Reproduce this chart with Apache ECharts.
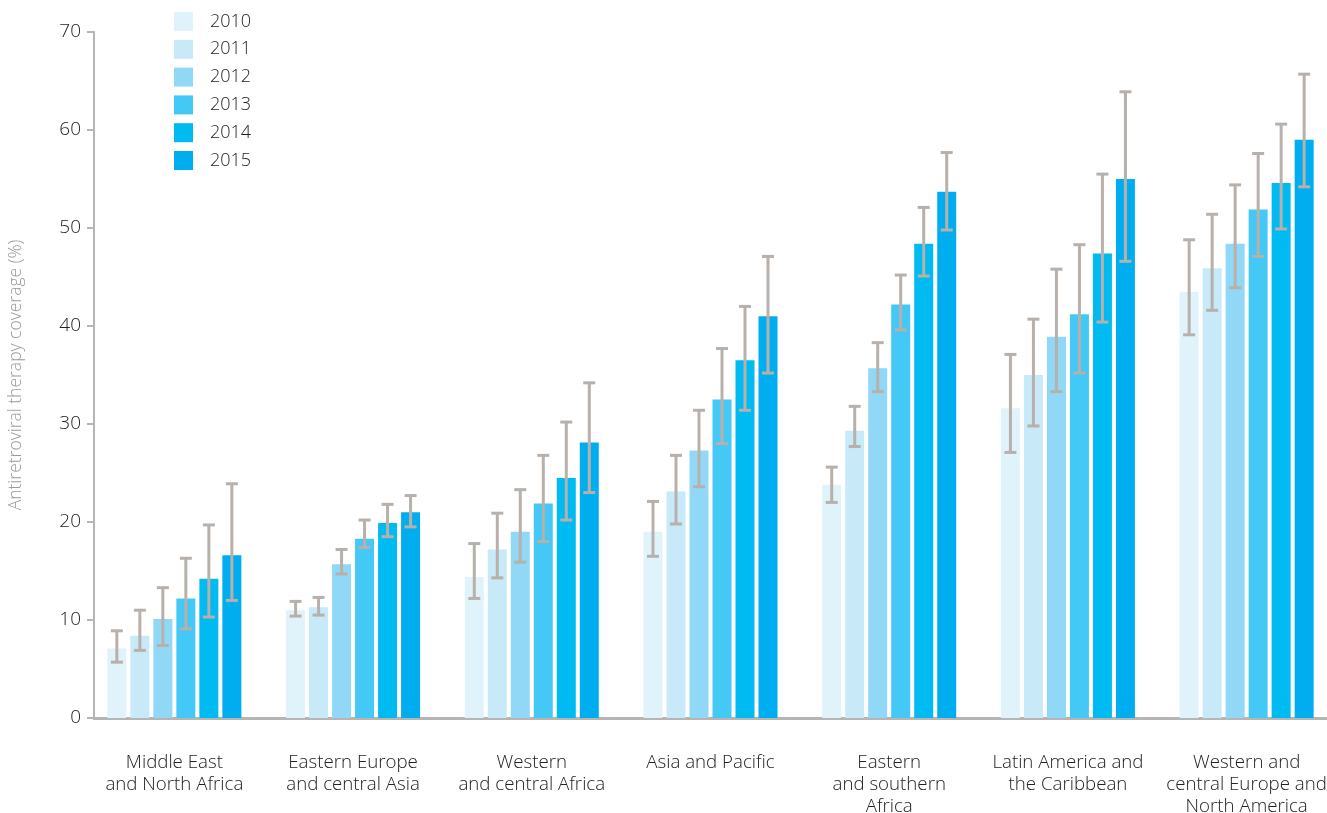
<!DOCTYPE html>
<html>
<head>
<meta charset="utf-8">
<script src="https://cdn.jsdelivr.net/npm/echarts@6/dist/echarts.min.js"></script>
<style>html,body{margin:0;padding:0;background:#fff}#c{width:1327px;height:813px}</style>
</head>
<body>
<div id="c"></div>
<script>
const categories = [
  "Middle East\nand North Africa",
  "Eastern Europe\nand central Asia",
  "Western\nand central Africa",
  "Asia and Pacific",
  "Eastern\nand southern\nAfrica",
  "Latin America and\nthe Caribbean",
  "Western and\ncentral Europe and\nNorth America"
];
const years = ["2010", "2011", "2012", "2013", "2014", "2015"];
const colors = ["#e0f3fb", "#c8e9f8", "#90d8f6", "#44c8f5", "#00baf2", "#00aeef"];

// coverage values per year (one value per category)
const v2010 = [7.1, 11.0, 14.4, 19.0, 23.8, 31.6, 43.5];
const v2011 = [8.4, 11.3, 17.2, 23.1, 29.3, 35.0, 45.9];
const v2012 = [10.1, 15.7, 19.0, 27.3, 35.7, 38.9, 48.4];
const v2013 = [12.2, 18.3, 21.9, 32.5, 42.2, 41.2, 51.9];
const v2014 = [14.2, 19.9, 24.5, 36.5, 48.4, 47.4, 54.6];
const v2015 = [16.6, 21.0, 28.1, 41.0, 53.7, 55.0, 59.0];

// uncertainty bounds per year
const lo2010 = [5.7, 10.4, 12.2, 16.5, 22.0, 27.1, 39.1];
const hi2010 = [8.9, 11.9, 17.8, 22.1, 25.6, 37.1, 48.8];
const lo2011 = [6.9, 10.5, 14.3, 19.8, 27.7, 29.8, 41.6];
const hi2011 = [11.0, 12.3, 20.9, 26.8, 31.8, 40.7, 51.4];
const lo2012 = [7.4, 14.7, 15.9, 23.6, 33.3, 33.3, 43.9];
const hi2012 = [13.3, 17.2, 23.3, 31.4, 38.3, 45.8, 54.4];
const lo2013 = [9.1, 17.4, 18.0, 28.0, 39.6, 35.2, 47.1];
const hi2013 = [16.3, 20.2, 26.8, 37.7, 45.2, 48.3, 57.6];
const lo2014 = [10.3, 18.5, 20.2, 31.4, 45.1, 40.4, 49.9];
const hi2014 = [19.7, 21.8, 30.2, 42.0, 52.1, 55.5, 60.6];
const lo2015 = [12.0, 19.5, 23.0, 35.2, 49.8, 46.6, 54.2];
const hi2015 = [23.9, 22.7, 34.2, 47.1, 57.7, 63.9, 65.7];

const values = [v2010, v2011, v2012, v2013, v2014, v2015];
const lows = [lo2010, lo2011, lo2012, lo2013, lo2014, lo2015];
const highs = [hi2010, hi2011, hi2012, hi2013, hi2014, hi2015];

const BAR_W = 19, BAR_GAP = 4, CAP_W = 12;
const errColor = "#b8b0aa";
const FONT = "'Open Sans', Lato, sans-serif";
const TXT = "#222";

const series = [];
years.forEach((y, i) => {
  series.push({
    name: y, type: "bar", data: values[i],
    barWidth: BAR_W, barGap: (BAR_GAP / BAR_W * 100) + "%",
    itemStyle: { color: colors[i] }, z: 2
  });
});
years.forEach((y, i) => {
  const offset = (i - (years.length - 1) / 2) * (BAR_W + BAR_GAP);
  series.push({
    type: "custom", name: y + " err", z: 5, silent: true,
    data: categories.map((c, k) => [k, lows[i][k], highs[i][k]]),
    encode: { x: 0, y: [1, 2] },
    renderItem: function (params, api) {
      const p1 = api.coord([api.value(0), api.value(1)]);
      const p2 = api.coord([api.value(0), api.value(2)]);
      const x = p1[0] + offset;
      const st = { stroke: errColor, lineWidth: 3 };
      return {
        type: "group", children: [
          { type: "line", shape: { x1: x, y1: p1[1], x2: x, y2: p2[1] }, style: st },
          { type: "line", shape: { x1: x - CAP_W / 2, y1: p1[1], x2: x + CAP_W / 2, y2: p1[1] }, style: st },
          { type: "line", shape: { x1: x - CAP_W / 2, y1: p2[1], x2: x + CAP_W / 2, y2: p2[1] }, style: st }
        ]
      };
    }
  });
});

const chart = echarts.init(document.getElementById("c"));
chart.setOption({
  animation: false,
  textStyle: { fontFamily: FONT },
  legend: {
    data: years, orient: "vertical", left: 174, top: 12, padding: 0,
    itemWidth: 19, itemHeight: 19, itemGap: 8.8, icon: "rect",
    textStyle: { fontSize: 18, color: TXT, fontFamily: FONT, fontWeight: 300, padding: [0, 0, 0, 12] }
  },
  grid: [
    { left: 85, top: 32, width: 1251, height: 686, outerBoundsMode: "none", containLabel: false },
    { left: 94, top: 32, right: 0, height: 686, outerBoundsMode: "none", containLabel: false }
  ],
  xAxis: [
    {
      type: "category", data: categories, gridIndex: 0,
      axisLine: { show: false }, axisTick: { show: false },
      axisLabel: { margin: 34, fontSize: 18.7, lineHeight: 22, color: TXT, fontFamily: FONT, fontWeight: 300, interval: 0 }
    },
    {
      type: "value", gridIndex: 1, min: 0, max: 1,
      axisLine: { show: true, lineStyle: { color: "#b5b5b5", width: 3 } },
      axisTick: { show: false }, axisLabel: { show: false }, splitLine: { show: false }
    }
  ],
  yAxis: [
    {
      type: "value", gridIndex: 0, min: 0, max: 70, interval: 10, offset: -9,
      name: "Antiretroviral therapy coverage (%)", nameLocation: "middle", nameGap: 69,
      nameTextStyle: { fontSize: 17.5, color: "#9a9a9a", fontFamily: FONT, fontWeight: 300 },
      axisLine: { show: true, lineStyle: { color: "#b5b5b5", width: 2 } },
      axisTick: { show: true, length: 7, lineStyle: { color: "#b5b5b5", width: 2 } },
      axisLabel: { fontSize: 19, color: TXT, margin: 13, fontFamily: FONT, fontWeight: 300 },
      splitLine: { show: false }
    },
    { type: "value", gridIndex: 1, show: false, min: 0, max: 1 }
  ],
  series: series
});
</script>
</body>
</html>
